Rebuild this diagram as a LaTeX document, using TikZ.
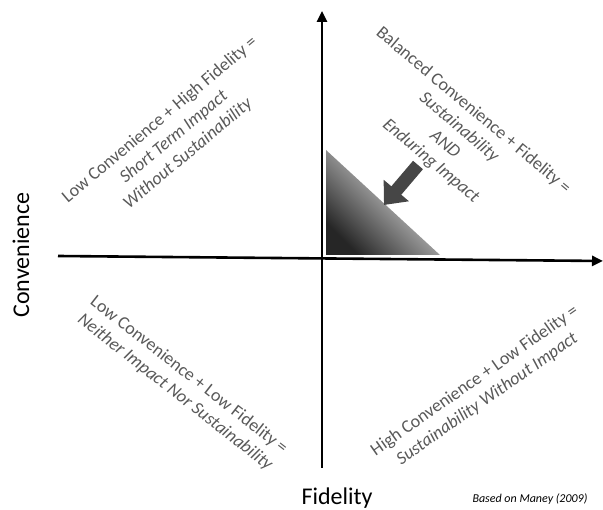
\documentclass[tikz,border=0pt]{standalone}
\usepackage{fontspec}
\setmainfont{Carlito}
\usetikzlibrary{arrows.meta}
\definecolor{quadtext}{HTML}{595959}
\definecolor{pointer}{HTML}{464646}
\tikzset{
  axis/.style={line width=2.6pt,-{Triangle[length=11pt,width=10pt]}},
  quad/.style={text=quadtext,align=center,font=\fontsize{18}{22}\selectfont},
  axlabel/.style={font=\fontsize{24}{28}\selectfont},
}
\begin{document}
\begin{tikzpicture}[x=1pt,y=-1pt]
  \useasboundingbox (0,0) rectangle (603,510);
  % shaded corner of the upper right quadrant
  \shade[bottom color=black!85,middle color=black!14,top color=white,shading angle=-45]
    (326,150) -- (326,255) -- (440,255) -- cycle;
  % axes
  \coordinate (xl) at (58,256);
  \coordinate (xr) at (603,261);
  \coordinate (yb) at (322,468);
  \coordinate (yt) at (322,11);
  \draw[axis] (xl) -- (xr);
  \draw[axis] (yb) -- (yt);
  % block arrow into the corner
  \coordinate (ptail) at (418,165);
  \coordinate (ptip) at (384,205);
  \draw[pointer,line width=13pt,-{Triangle[length=19pt,width=32pt]}] (ptail) -- (ptip);
  % quadrants
  \node[quad,rotate=40] (hifid) at (174,137)
    {Low Convenience + High Fidelity =\\\textit{Short Term Impact}\\\textit{Without Sustainability}};
  \node[quad,rotate=-40] (bal) at (452,136)
    {Balanced Convenience + Fidelity =\\\textit{Sustainability}\\\textit{AND}\\\textit{Enduring Impact}};
  \node[quad,rotate=-38] (lowlow) at (182,384)
    {Low Convenience + Low Fidelity =\\\textit{Neither Impact Nor Sustainability}};
  \node[quad,rotate=35] (hiconv) at (481,390)
    {High Convenience + Low Fidelity =\\\textit{Sustainability Without Impact}};
  % axis labels
  \node[axlabel,rotate=90] (conv) at (21,255) {Convenience};
  \node[axlabel,anchor=base] (fid) at (337,505) {Fidelity};
  \node[anchor=base east,font=\fontsize{12}{14}\selectfont\itshape] (src) at (591,503) {Based on Maney (2009)};
\end{tikzpicture}
\end{document}
